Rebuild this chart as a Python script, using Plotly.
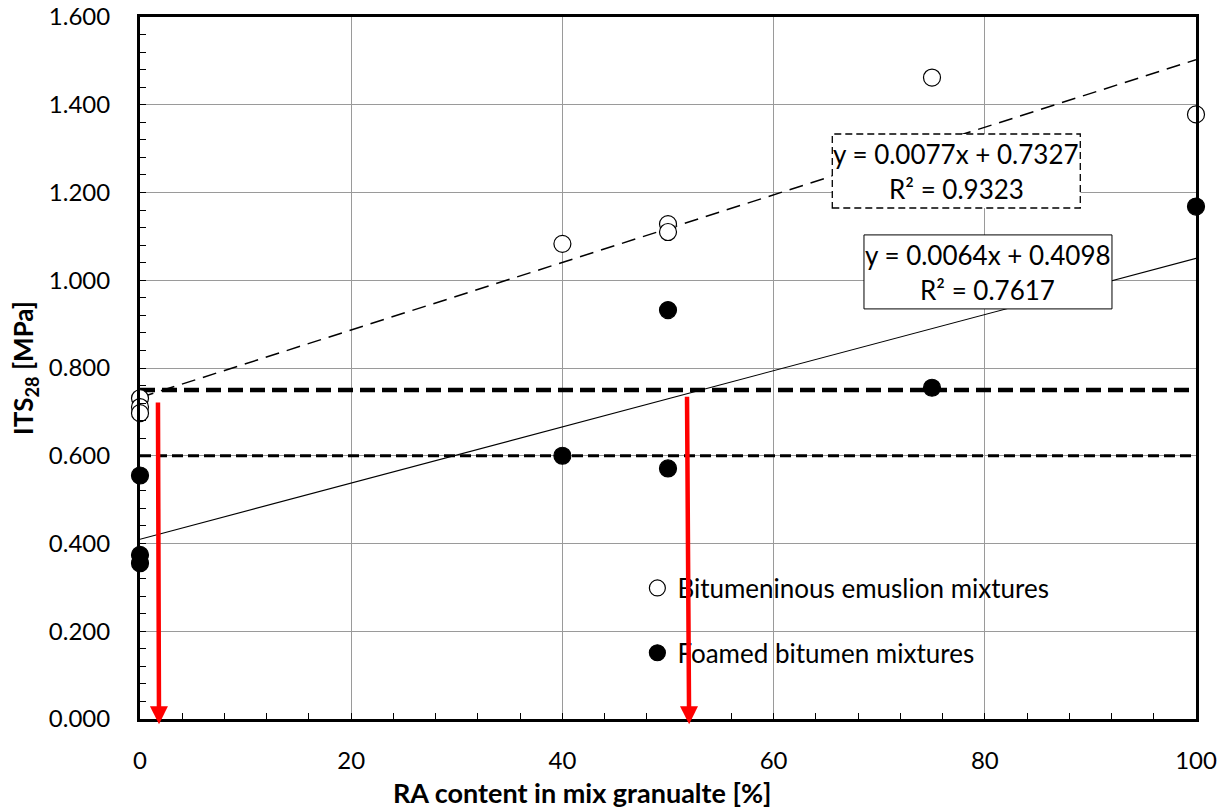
import plotly.graph_objects as go

# ---- data ----
emul_x = [0, 0, 0, 40, 50, 50, 75, 100]
emul_y = [0.731, 0.711, 0.697, 1.083, 1.128, 1.110, 1.462, 1.378]
foam_x = [0, 0, 0, 40, 50, 50, 75, 100]
foam_y = [0.555, 0.374, 0.355, 0.600, 0.932, 0.571, 0.755, 1.168]

emul_slope, emul_icpt, emul_r2 = 0.0077, 0.7327, 0.9323
foam_slope, foam_icpt, foam_r2 = 0.0064, 0.4098, 0.7617
trend_x = [0, 100]

limit_hi = 0.75
limit_lo = 0.60
limit_x = [0, 100]

arrow_x_tail = [1.7, 51.8]
arrow_y_tail = [0.725, 0.738]
arrow_x_head = [1.8, 52.0]
arrow_y_head = [-0.012, -0.012]

x_ticks = [0, 20, 40, 60, 80, 100]
y_ticks = [0.0, 0.2, 0.4, 0.6, 0.8, 1.0, 1.2, 1.4, 1.6]

x_title = "<b>RA content in mix granualte [%]</b>"
y_title = "<b>ITS<sub>28</sub> [MPa]</b>"

FONT = "Lato"

fig = go.Figure()

# threshold lines
fig.add_trace(go.Scatter(x=limit_x, y=[limit_hi] * 2, mode="lines", showlegend=False,
                         line=dict(color="black", width=4.5, dash="15px,7px"), hoverinfo="skip"))
fig.add_trace(go.Scatter(x=limit_x, y=[limit_lo] * 2, mode="lines", showlegend=False,
                         line=dict(color="black", width=3, dash="11px,5px"), hoverinfo="skip"))

# trendlines
fig.add_trace(go.Scatter(x=trend_x, y=[emul_slope * v + emul_icpt for v in trend_x], mode="lines",
                         showlegend=False, line=dict(color="black", width=1.5, dash="14px,8px"),
                         hoverinfo="skip"))
fig.add_trace(go.Scatter(x=trend_x, y=[foam_slope * v + foam_icpt for v in trend_x], mode="lines",
                         showlegend=False, line=dict(color="black", width=1.1), hoverinfo="skip"))

# data points
fig.add_trace(go.Scatter(x=emul_x, y=emul_y, mode="markers", name="Bitumeninous emuslion mixtures",
                         legendgroup="a", cliponaxis=False,
                         marker=dict(size=17, color="white", line=dict(color="black", width=1.2))))
fig.add_trace(go.Scatter(x=foam_x, y=foam_y, mode="markers", name="Foamed bitumen mixtures",
                         legendgroup="b", cliponaxis=False,
                         marker=dict(size=17, color="black", line=dict(color="black", width=1.2))))

shapes = [
    # white legend background hiding gridlines
    dict(type="rect", xref="paper", yref="paper", x0=0.386, x1=0.967, y0=0.0456, y1=0.238,
         fillcolor="white", line=dict(width=0), layer="between"),
    # equation boxes
    dict(type="rect", xref="x", yref="y", xsizemode="pixel", ysizemode="pixel",
         xanchor=77.3, yanchor=1.249, x0=-124, x1=124, y0=-37, y1=37,
         fillcolor="white", line=dict(color="black", width=1.3, dash="7px,4px"), layer="above"),
    dict(type="rect", xref="x", yref="y", xsizemode="pixel", ysizemode="pixel",
         xanchor=80.3, yanchor=1.019, x0=-124, x1=124, y0=-37, y1=37,
         fillcolor="white", line=dict(color="black", width=1), layer="above"),
]

annotations = []
for cx, cy, s, b, r2 in [(77.3, 1.249, emul_slope, emul_icpt, emul_r2),
                         (80.3, 1.019, foam_slope, foam_icpt, foam_r2)]:
    annotations.append(dict(x=cx, y=cy, xref="x", yref="y", showarrow=False, yshift=17,
                            text=f"y = {s:.4f}x + {b:.4f}", font=dict(family=FONT, size=26, color="black")))
    annotations.append(dict(x=cx, y=cy, xref="x", yref="y", showarrow=False, yshift=-18,
                            text=f"R² = {r2:.4f}", font=dict(family=FONT, size=26, color="black")))

for xt, yt, xh, yh in zip(arrow_x_tail, arrow_y_tail, arrow_x_head, arrow_y_head):
    annotations.append(dict(x=xh, y=yh, ax=xt, ay=yt, xref="x", yref="y", axref="x", ayref="y",
                            showarrow=True, arrowhead=2, arrowsize=0.8, arrowwidth=4.5,
                            arrowcolor="#FF0000", text=""))

# x axis title (placed left of centre as in the original)
annotations.append(dict(x=0.4195, y=0, xref="paper", yref="paper", xanchor="center", yanchor="middle",
                        yshift=-73, showarrow=False, text=x_title,
                        font=dict(family=FONT, size=27, color="black")))

fig.update_layout(
    width=1227, height=811,
    margin=dict(l=140, r=31, t=17, b=92, autoexpand=False),
    paper_bgcolor="white", plot_bgcolor="white",
    font=dict(family=FONT, size=24, color="black"),
    shapes=shapes, annotations=annotations,
    legend=dict(x=0.471, y=0.22, xanchor="left", yanchor="top", bgcolor="rgba(0,0,0,0)",
                font=dict(family=FONT, size=26, color="black"), tracegroupgap=28,
                traceorder="grouped", itemsizing="trace"),
    showlegend=True,
)

fig.update_xaxes(
    range=[0, 100], tickvals=x_ticks, ticktext=[str(v) for v in x_ticks],
    showgrid=True, gridcolor="#9a9a9a", gridwidth=1, zeroline=False, automargin=False,
    showline=True, linecolor="black", linewidth=3, mirror=True,
    ticks="inside", ticklen=6, tickcolor="black", tickwidth=1, ticklabelstandoff=18,
    minor=dict(dtick=4, ticks="inside", ticklen=6, tickcolor="black", showgrid=False),
    tickfont=dict(family=FONT, size=24),
)
fig.update_yaxes(
    range=[0, 1.6], tickvals=y_ticks, ticktext=[f"{v:.3f}" for v in y_ticks],
    showgrid=True, gridcolor="#9a9a9a", gridwidth=1, zeroline=False, automargin=False,
    showline=True, linecolor="black", linewidth=3, mirror=True,
    ticks="inside", ticklen=6, tickcolor="black", tickwidth=1, ticklabelstandoff=22,
    minor=dict(dtick=0.04, ticks="inside", ticklen=6, tickcolor="black", showgrid=False),
    tickfont=dict(family=FONT, size=24),
    title=dict(text=y_title, font=dict(family=FONT, size=26), standoff=8),
)

fig.write_html("out.html")
